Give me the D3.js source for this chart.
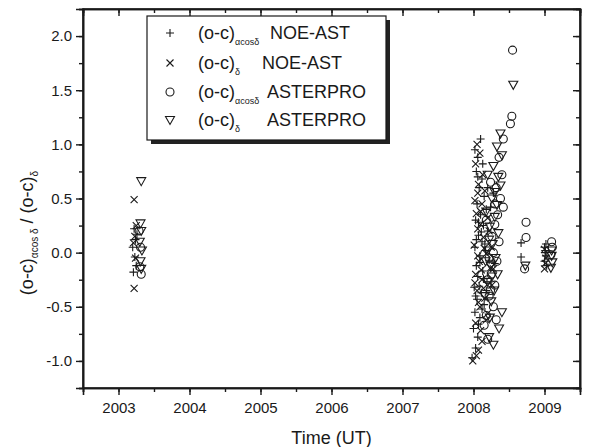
<!DOCTYPE html>
<html><head><meta charset="utf-8">
<script src="https://cdn.jsdelivr.net/npm/d3@7"></script>
<style>body{margin:0;background:#fff}svg{display:block;font-family:"Liberation Sans",Arial,sans-serif}</style>
</head><body><svg id="c" width="605" height="447"></svg>
<script>
// ---- data ----
const xTicks = [2003,2004,2005,2006,2007,2008,2009];
const yTicks = [-1.0,-0.5,0.0,0.5,1.0,1.5,2.0];
const seriesNames = ["NOE-AST","NOE-AST","ASTERPRO","ASTERPRO"];
const seriesSubs = ["αcosδ","δ","αcosδ","δ"];
const noeRA = [
 [2003.22,0.22],[2003.24,0.12],[2003.2,0.05],[2003.23,-0.04],[2003.25,-0.12],[2003.21,-0.18],[2003.26,0.17],
 [2008.02,0.95],[2008.06,0.88],[2008.1,1.05],[2008.04,0.75],[2008.12,0.68],[2008.08,0.6],[2008.15,0.52],[2008.05,0.45],
 [2008.18,0.4],[2008.1,0.35],[2008.03,0.3],[2008.14,0.25],[2008.2,0.2],[2008.07,0.16],[2008.12,0.1],[2008.02,0.05],
 [2008.17,0.02],[2008.09,-0.03],[2008.22,-0.07],[2008.04,-0.12],[2008.13,-0.17],[2008.06,-0.22],[2008.19,-0.27],
 [2008.01,-0.32],[2008.11,-0.37],[2008.05,-0.43],[2008.15,-0.48],[2008.02,-0.55],[2008.09,-0.6],[2008.0,-0.7],
 [2008.06,-0.78],[2008.03,-0.88],[2007.98,-0.97],[2008.67,0.09],[2008.67,-0.04],[2008.28,0.55],[2008.24,0.42],[2008.3,-0.1],
 [2008.07,0.28],[2008.11,0.19],[2008.04,0.12],[2008.16,0.08],[2008.09,-0.09],[2008.14,-0.24],[2008.08,-0.31],[2008.18,-0.35],
 [2008.03,-0.4],[2008.12,-0.52],[2008.07,-0.66],[2008.2,0.6],[2008.06,0.7],[2008.13,0.82],
 [2009.0,0.05],[2009.01,0.0],[2009.02,-0.03],[2009.0,-0.08],[2009.02,0.08],[2009.03,-0.12],[2009.01,0.02]
];
const noeDec = [
 [2003.22,0.49],[2003.23,0.15],[2003.21,0.09],[2003.24,-0.05],[2003.22,-0.33],[2003.25,0.25],
 [2008.05,1.0],[2008.09,0.92],[2008.03,0.82],[2008.13,0.72],[2008.07,0.63],[2008.16,0.57],[2008.02,0.48],[2008.1,0.38],
 [2008.2,0.32],[2008.06,0.22],[2008.14,0.14],[2008.01,0.07],[2008.18,-0.01],[2008.08,-0.08],[2008.24,-0.14],[2008.03,-0.2],
 [2008.12,-0.25],[2008.26,-0.3],[2008.05,-0.35],[2008.16,-0.42],[2008.09,-0.5],[2008.2,-0.56],[2008.03,-0.65],[2008.12,-0.82],
 [2008.07,-0.9],[2007.99,-1.0],[2008.28,-0.15],[2008.25,0.05],
 [2008.04,0.36],[2008.1,0.26],[2008.15,0.04],[2008.06,-0.03],[2008.11,-0.16],[2008.02,-0.28],[2008.14,-0.33],[2008.07,-0.46],
 [2008.18,-0.62],[2008.1,-0.72],[2008.22,0.2],[2008.06,0.55],[2008.12,0.45],[2008.04,-0.95],
 [2009.0,-0.15],[2009.02,-0.05],[2009.0,0.03],[2009.01,-0.1]
];
const astRA = [
 [2003.31,0.05],[2003.3,-0.13],[2003.32,-0.2],[2003.29,0.2],
 [2008.55,1.87],[2008.54,1.26],[2008.52,1.19],[2008.42,1.05],[2008.36,0.88],[2008.4,0.72],[2008.32,0.6],[2008.38,0.5],
 [2008.42,0.42],[2008.34,0.35],[2008.74,0.28],[2008.3,0.26],[2008.74,0.14],[2008.36,0.1],[2008.28,0.0],[2008.33,-0.08],
 [2008.72,-0.15],[2008.25,-0.2],[2008.3,-0.3],[2008.22,-0.4],[2008.28,-0.5],[2008.18,-0.58],[2008.32,-0.62],[2008.15,-0.67],[2008.2,-0.8],
 [2008.26,0.15],[2008.22,-0.05],[2008.2,-0.25],[2008.24,-0.35],[2008.18,0.3],[2008.3,0.45],[2008.24,0.65],
 [2009.1,0.1],[2009.11,0.05],[2009.09,-0.02]
];
const astDec = [
 [2003.32,0.66],[2003.31,0.27],[2003.32,0.2],[2003.3,0.1],[2003.33,0.02],[2003.31,-0.08],[2003.32,-0.15],
 [2008.56,1.55],[2008.38,1.1],[2008.33,0.98],[2008.4,0.9],[2008.28,0.8],[2008.35,0.7],[2008.38,0.62],[2008.26,0.5],
 [2008.33,0.44],[2008.3,0.33],[2008.23,0.24],[2008.35,0.18],[2008.27,0.08],[2008.2,0.02],[2008.31,-0.05],[2008.73,-0.12],
 [2008.24,-0.12],[2008.34,-0.2],[2008.2,-0.27],[2008.29,-0.35],[2008.4,-0.55],[2008.25,-0.45],[2008.36,-0.7],[2008.22,-0.78],[2008.28,-0.85],
 [2008.18,0.38],[2008.22,0.12],[2008.17,-0.08],[2008.26,-0.22],[2008.16,-0.4],[2008.23,-0.6],[2008.3,0.56],[2008.2,0.72],
 [2009.1,-0.03],[2009.11,-0.09],[2009.09,-0.14],[2009.1,0.02]
];

// ---- layout ----
const svg = d3.select("#c");
const L=83,R=580,T=9,B=388;
const x = d3.scaleLinear().domain([2002.5,2009.5]).range([L,R]);
const y = d3.scaleLinear().domain([-1.25,2.25]).range([B,T]);
const ink="#1a1a1a";

const shapes = {
  plus:"M-4,0H4M0,-4V4",
  cross:"M-3.5,-3.5L3.5,3.5M-3.5,3.5L3.5,-3.5",
  circle:"M4,0A4,4 0 1,1 -4,0A4,4 0 1,1 4,0",
  tri:"M-4.5,-3.5L4.5,-3.5L0,4.5Z"
};
const series = [
  {data:noeRA, shape:"plus"},
  {data:noeDec, shape:"cross"},
  {data:astRA, shape:"circle"},
  {data:astDec, shape:"tri"}
];

const xMinor = d3.range(2002.5,2009.51,0.5);
const yMinor = d3.range(-1.25,2.251,0.25);
const fmtY = d=>d.toFixed(1);
const FF = "Liberation Sans, Arial, sans-serif";

function styleAxis(g){g.selectAll("path").attr("stroke",ink).attr("stroke-width",1.6);g.selectAll("line").attr("stroke",ink).attr("stroke-width",1.4);g.selectAll("text").attr("fill",ink);}

svg.append("g").attr("transform",`translate(0,${B})`).call(d3.axisBottom(x).tickValues(xMinor).tickSize(4).tickFormat("")).call(styleAxis);
svg.append("g").attr("transform",`translate(0,${T})`).call(d3.axisBottom(x).tickValues(xMinor).tickSize(4).tickFormat("")).call(styleAxis);
svg.append("g").attr("transform",`translate(${L},0)`).call(d3.axisLeft(y).tickValues(yMinor).tickSize(4).tickFormat("")).call(styleAxis);
svg.append("g").attr("transform",`translate(${R},0)`).call(d3.axisLeft(y).tickValues(yMinor).tickSize(4).tickFormat("")).call(styleAxis);
svg.append("g").attr("transform",`translate(0,${B})`).call(d3.axisBottom(x).tickValues(xTicks).tickSize(7).tickPadding(7).tickFormat(d3.format("d")))
  .call(styleAxis).selectAll("text").attr("font-size",15).attr("font-family",FF);
svg.append("g").attr("transform",`translate(0,${T})`).call(d3.axisBottom(x).tickValues(xTicks).tickSize(7).tickFormat("")).call(styleAxis);
svg.append("g").attr("transform",`translate(${L},0)`).call(d3.axisLeft(y).tickValues(yTicks).tickSize(7).tickPadding(4).tickFormat(fmtY))
  .call(styleAxis).selectAll("text").attr("font-size",15).attr("font-family",FF);
svg.append("g").attr("transform",`translate(${R},0)`).call(d3.axisLeft(y).tickValues(yTicks).tickSize(7).tickFormat("")).call(styleAxis);
svg.append("rect").attr("x",L).attr("y",T).attr("width",R-L).attr("height",B-T).attr("fill","none").attr("stroke",ink).attr("stroke-width",1.6);

series.forEach(s=>{
  svg.append("g").selectAll("path").data(s.data).join("path")
    .attr("d",shapes[s.shape])
    .attr("transform",d=>`translate(${x(d[0])},${y(d[1])})`)
    .attr("fill","none").attr("stroke",ink).attr("stroke-width",1.1);
});

// legend
const lg = svg.append("g");
const lx=147, ly=16, lw=239, lh=124;
lg.append("rect").attr("x",lx+4).attr("y",ly+4).attr("width",lw).attr("height",lh).attr("fill","#222");
lg.append("rect").attr("x",lx).attr("y",ly).attr("width",lw).attr("height",lh).attr("fill","#fff").attr("stroke",ink).attr("stroke-width",1.2);
const rowY=[33,63,92,120];
const nameX=[270,262,267,267];
series.forEach((s,i)=>{
  lg.append("path").attr("d",shapes[s.shape]).attr("transform",`translate(170,${rowY[i]})`).attr("fill","none").attr("stroke",ink).attr("stroke-width",1.1);
  const t = lg.append("text").attr("x",198).attr("y",rowY[i]+6).attr("font-size",18).attr("fill",ink);
  t.append("tspan").text("(o-c)");
  t.append("tspan").attr("font-size",9).attr("dy",6).text(seriesSubs[i]);
  lg.append("text").attr("x",nameX[i]).attr("y",rowY[i]+6).attr("font-size",18).attr("fill",ink).text(seriesNames[i]);
});

// axis titles
svg.append("text").attr("x",(L+R)/2).attr("y",444).attr("text-anchor","middle").attr("font-size",18).attr("fill",ink).text("Time (UT)");
const yt = svg.append("text").attr("transform","translate(33,233) rotate(-90)").attr("text-anchor","middle").attr("font-size",18).attr("fill",ink);
yt.append("tspan").text("(o-c)");
yt.append("tspan").attr("font-size",10).attr("dy",5).text("αcos δ");
yt.append("tspan").attr("dy",-5).text(" / (o-c)");
yt.append("tspan").attr("font-size",10).attr("dy",5).text("δ");
</script></body></html>
